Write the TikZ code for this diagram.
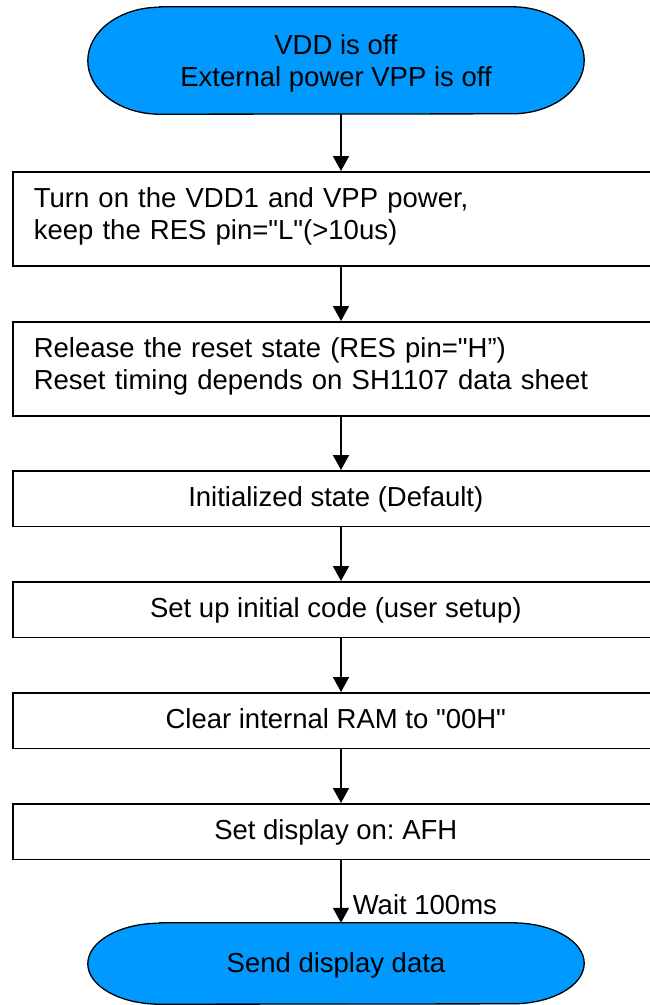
\documentclass[tikz,border=0pt]{standalone}
\usepackage{fontspec}
\setmainfont{Liberation Sans}[Ligatures=TeXOff]
\usetikzlibrary{arrows.meta,backgrounds}
\definecolor{termblue}{RGB}{0,153,255}
\newcommand\lnbox{\rule[-11pt]{0pt}{31.5pt}}
\newcommand\lnterm{\rule[-5.5pt]{0pt}{31.5pt}}
\frenchspacing
\begin{document}
\begin{tikzpicture}[x=1pt,y=1pt,
  txt/.style={font=\fontsize{27.5}{31.5}\selectfont\frenchspacing},
  term/.style={txt, inner sep=0pt, minimum width=496pt, align=center},
  termshape/.style={fill=termblue, draw=black, line width=1.3pt},
  twobox/.style={txt, draw, line width=1.6pt, anchor=north west, inner xsep=21pt, inner ysep=0pt,
                 text width=604pt, align=left},
  onebox/.style={txt, draw, line width=1.6pt, anchor=north west, inner sep=0pt,
                 minimum width=646pt, minimum height=55.5pt, text height=23pt, text depth=8pt},
  arr/.style={line width=1.6pt, -{Triangle[width=16pt,length=15pt]}},
  lbl/.style={txt, inner sep=0pt, anchor=base west}
]
\useasboundingbox (0,0) rectangle (650,-1005);
\clip (0,0) rectangle (650,-1005);

\coordinate (col) at (341,0);

% terminals
\node[term, minimum height=107pt] (s1) at (336,-60.5)
  {\lnterm VDD is off\\\lnterm External power VPP is off};
\node[term, minimum height=81pt, text height=24.25pt, text depth=7.25pt] (s2) at (336,-963.5)
  {Send display data};

\begin{scope}[on background layer]
  \fill[white] (0,0) rectangle (650,-1005);
  \foreach \n/\ry in {s1/53.5, s2/40.5} {
    \draw[termshape] ([xshift=72pt]\n.north west) -- ([xshift=-72pt]\n.north east)
      arc[start angle=90, end angle=-90, x radius=72pt, y radius=\ry pt]
      -- ([xshift=72pt]\n.south west)
      arc[start angle=270, end angle=90, x radius=72pt, y radius=\ry pt] -- cycle;
  }
\end{scope}

% process boxes
\node[twobox, minimum height=94pt] (b1) at (12,-171)
  {\lnbox Turn on the VDD1 and VPP power,\\\lnbox keep the RES pin="L"(>10us)};
\node[twobox, minimum height=94pt] (b2) at (12,-321)
  {\lnbox Release the reset state (RES pin="H”)\\\lnbox Reset timing depends on SH1107 data sheet};
\node[onebox] (b3) at (12,-470) {Initialized state (Default)};
\node[onebox] (b4) at (12,-581) {Set up initial code (user setup)};
\node[onebox] (b5) at (12,-692) {Clear internal RAM to "00H"};
\node[onebox] (b6) at (12,-803) {Set display on: AFH};

% connectors
\draw[arr] (s1.south -| col) -- (b1.north -| col);
\draw[arr] (b1.south -| col) -- (b2.north -| col);
\draw[arr] (b2.south -| col) -- (b3.north -| col);
\draw[arr] (b3.south -| col) -- (b4.north -| col);
\draw[arr] (b4.south -| col) -- (b5.north -| col);
\draw[arr] (b5.south -| col) -- (b6.north -| col);
\draw[arr] (b6.south -| col) -- node[lbl, pos=0.86, xshift=11pt] (w) {Wait 100ms} (s2.north -| col);
\end{tikzpicture}
\end{document}
